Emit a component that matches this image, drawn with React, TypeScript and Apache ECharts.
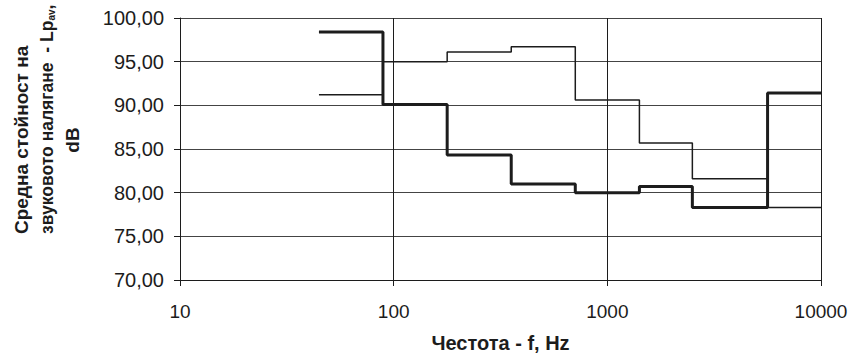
import React, { useEffect, useRef } from "react";
import * as echarts from "echarts";

// Octave band edges (Hz) – step boundaries
const bandEdges = [44.7, 89.1, 178, 355, 708, 1413, 2500, 5623, 10000];
// Levels per band (dB); last value repeated at right edge
const thickLevels = [98.4, 90.1, 84.3, 81.0, 80.0, 80.7, 78.3, 91.4];
const thinLevels = [91.2, 95.0, 96.1, 96.7, 90.6, 85.7, 81.6, 78.3];
const xTicks = [10, 100, 1000, 10000];
const yMin = 70;
const yMax = 100;
const yStep = 5;

const xTitle = "Честота - f, Hz";
const yTitleLine1 = "Средна стойност на";
const yTitleLine2a = "звуковото налягане  - Lp";
const yTitleLine2sub = "av";
const yTitleLine2b = ",";
const yTitleLine3 = "dB";

function stepData(levels: number[]) {
  const pts: [number, number][] = levels.map((v, i) => [bandEdges[i], v]);
  pts.push([bandEdges[bandEdges.length - 1], levels[levels.length - 1]]);
  return pts;
}

const FONT = "'Liberation Sans', Arial, sans-serif";
const INK = "#1c1c1c";

export default function App() {
  const ref = useRef<HTMLDivElement>(null);
  useEffect(() => {
    if (!ref.current) return;
    const chart = echarts.init(ref.current, undefined, { renderer: "svg" });
    chart.setOption({
      animation: false,
      backgroundColor: "#ffffff",
      grid: {
        left: 180,
        top: 18,
        right: 31,
        bottom: 76,
        containLabel: false,
        outerBoundsMode: "none",
      },
      xAxis: {
        type: "log",
        logBase: 10,
        min: xTicks[0],
        max: xTicks[xTicks.length - 1],
        name: xTitle,
        nameLocation: "middle",
        nameGap: 53,
        nameTextStyle: { fontFamily: FONT, fontWeight: "bold", fontSize: 20, color: INK },
        axisLine: { show: true, lineStyle: { color: INK, width: 1 } },
        axisTick: { show: true, length: 6, lineStyle: { color: INK } },
        axisLabel: {
          fontFamily: FONT,
          fontSize: 19,
          color: INK,
          margin: 22,
          formatter: (v: number) => String(Math.round(v)),
        },
        splitLine: { show: true, lineStyle: { color: INK, width: 1 } },
        minorTick: { show: false },
      },
      yAxis: {
        type: "value",
        min: yMin,
        max: yMax,
        interval: yStep,
        axisLine: { show: true, lineStyle: { color: INK, width: 1 } },
        axisTick: { show: true, length: 6, lineStyle: { color: INK } },
        axisLabel: {
          fontFamily: FONT,
          fontSize: 20,
          color: INK,
          margin: 16,
          formatter: (v: number) => v.toFixed(2).replace(".", ","),
        },
        splitLine: { show: true, lineStyle: { color: "#444", width: 1 } },
      },
      graphic: [
        {
          type: "text",
          x: 21,
          y: 234,
          rotation: Math.PI / 2,
          style: {
            text: yTitleLine1,
            fontFamily: FONT,
            fontWeight: "bold",
            fontSize: 19,
            fill: INK,
            align: "left",
            verticalAlign: "middle",
          },
        },
        {
          type: "text",
          x: 47,
          y: 234,
          rotation: Math.PI / 2,
          style: {
            text: `{m|${yTitleLine2a}}{s|${yTitleLine2sub}}{m|${yTitleLine2b}}`,
            align: "left",
            verticalAlign: "middle",
            rich: {
              m: { fontFamily: FONT, fontWeight: "bold", fontSize: 17.5, fill: INK },
              s: {
                fontFamily: FONT,
                fontWeight: "bold",
                fontSize: 10,
                fill: INK,
                verticalAlign: "bottom",
                padding: [8, 0, 0, 0],
              },
            },
          },
        },
        {
          type: "text",
          x: 72,
          y: 140,
          rotation: Math.PI / 2,
          style: {
            text: yTitleLine3,
            fontFamily: FONT,
            fontWeight: "bold",
            fontSize: 19,
            fill: INK,
            align: "center",
            verticalAlign: "middle",
          },
        },
      ],
      series: [
        {
          name: "thin",
          type: "line",
          step: "end",
          data: stepData(thinLevels),
          symbol: "none",
          lineStyle: { color: INK, width: 1.5 },
          z: 3,
        },
        {
          name: "thick",
          type: "line",
          step: "end",
          data: stepData(thickLevels),
          symbol: "none",
          lineStyle: { color: INK, width: 3 },
          z: 4,
        },
      ],
    });
    return () => chart.dispose();
  }, []);
  return (
    <div
      ref={ref}
      style={{ position: "fixed", left: 0, top: 0, width: 852, height: 356, background: "#fff" }}
    />
  );
}
